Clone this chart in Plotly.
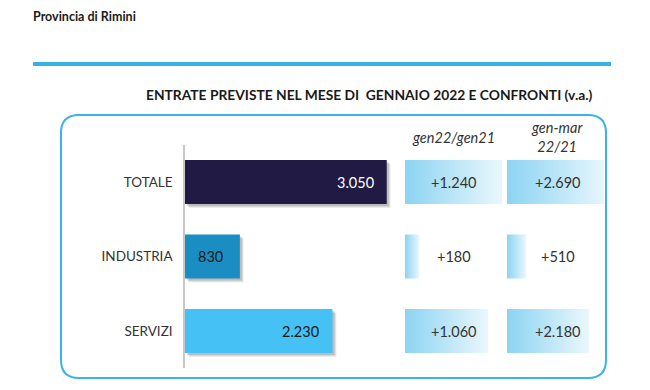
import plotly.graph_objects as go

# ---- data ----
categories = ["TOTALE", "INDUSTRIA", "SERVIZI"]
entrate = [3050, 830, 2230]
entrate_labels = ["3.050", "830", "2.230"]
var_gen = [1240, 180, 1060]
var_gen_labels = ["+1.240", "+180", "+1.060"]
var_genmar = [2690, 510, 2180]
var_genmar_labels = ["+2.690", "+510", "+2.180"]
bar_colors = ["#201A45", "#1A8DC2", "#45C1F6"]
label_colors = ["white", "#1a1a1a", "#1a1a1a"]

W, H = 650, 390
FONT = "Lato, 'Open Sans', sans-serif"
ROW_PX = 74.5
X_PER_PX = 15.12

def px(x):
    return x / W

def py(y):
    return 1 - y / H

fig = go.Figure()

# soft shadows under the main bars
for shift_px, alpha in [(4, 0.07), (3, 0.09), (2, 0.12)]:
    fig.add_trace(go.Bar(
        y=categories, x=entrate, base=shift_px * X_PER_PX, orientation="h",
        marker=dict(color=f"rgba(0,0,0,{alpha})", line=dict(width=0)),
        width=0.59, offset=-0.295 + shift_px / ROW_PX,
        xaxis="x", yaxis="y", hoverinfo="skip", showlegend=False,
    ))

# main bars
fig.add_trace(go.Bar(
    y=categories, x=entrate, orientation="h",
    marker=dict(color=bar_colors, line=dict(width=0)),
    width=0.59, xaxis="x", yaxis="y", hoverinfo="skip", showlegend=False,
))

BAR_HALF = 0.295

def grad_bar(val, cat_idx, xa):
    y0, y1 = cat_idx - BAR_HALF, cat_idx + BAR_HALF
    return go.Scatter(
        x=[0, val, val, 0, 0], y=[y0, y0, y1, y1, y0],
        fill="toself", mode="lines", line=dict(width=0),
        fillgradient=dict(type="horizontal",
                          colorscale=[[0, "#8CD4F2"], [1, "#EAF7FD"]]),
        xaxis=xa, yaxis="y4", hoverinfo="skip", showlegend=False,
    )

for i, v in enumerate(var_gen):
    fig.add_trace(grad_bar(v, i, "x2"))
for i, v in enumerate(var_genmar):
    fig.add_trace(grad_bar(v, i, "x3"))

ydom = [py(368.25), py(144.75)]

fig.update_layout(
    width=W, height=H,
    margin=dict(l=0, r=0, t=0, b=0),
    barmode="overlay",
    paper_bgcolor="white", plot_bgcolor="rgba(0,0,0,0)",
    font=dict(family=FONT, color="#333333"),
    xaxis=dict(domain=[px(185), px(400)], range=[0, 215 * X_PER_PX],
               visible=False, fixedrange=True),
    yaxis=dict(domain=ydom, categoryorder="array", categoryarray=categories,
               autorange="reversed", showline=True, linecolor="#C8C8C8",
               linewidth=1.5, ticks="", showgrid=False, zeroline=False,
               ticklabelstandoff=8,
               tickfont=dict(size=13.5, color="#333333", family=FONT)),
    xaxis2=dict(domain=[px(405), px(502)], range=[0, 97 * 12.78],
                visible=False, anchor="y4"),
    xaxis3=dict(domain=[px(507), px(604)], range=[0, 97 * 26.6],
                visible=False, anchor="y4"),
    yaxis4=dict(domain=ydom, range=[2.5, -0.5], visible=False,
                anchor="x2"),
)

annotations = []
for i, (v, lab) in enumerate(zip(entrate, entrate_labels)):
    if v < 1000:
        annotations.append(dict(x=0, y=categories[i], xref="x", yref="y",
                                text=lab, showarrow=False, xanchor="left",
                                xshift=11, font=dict(size=14.5, color=label_colors[i], family=FONT)))
    else:
        annotations.append(dict(x=v, y=categories[i], xref="x", yref="y",
                                text=lab, showarrow=False, xanchor="right",
                                xshift=-11, font=dict(size=14.5, color=label_colors[i], family=FONT)))
for i, lab in enumerate(var_gen_labels):
    annotations.append(dict(x=0.5, y=i, xref="x2 domain", yref="y4", text=lab,
                            showarrow=False, xanchor="center",
                            font=dict(size=14.5, color="#333333", family=FONT)))
for i, lab in enumerate(var_genmar_labels):
    annotations.append(dict(x=0.5, y=i, xref="x3 domain", yref="y4", text=lab,
                            showarrow=False, xshift=2, xanchor="center",
                            font=dict(size=14.5, color="#333333", family=FONT)))
annotations += [
    dict(x=px(453), y=py(137), xref="paper", yref="paper", text="<i>gen22/gen21</i>",
         showarrow=False, xanchor="center", yanchor="middle",
         font=dict(size=14.5, color="#333333", family=FONT)),
    dict(x=px(557), y=py(136.5), xref="paper", yref="paper", text="<i>gen-mar</i><br><i>22/21</i>",
         showarrow=False, xanchor="center", yanchor="middle",
         font=dict(size=14.5, color="#333333", family=FONT)),
    dict(x=px(31), y=py(17), xref="paper", yref="paper", text="<b>Provincia di Rimini</b>",
         showarrow=False, xanchor="left", yanchor="middle",
         font=dict(size=12.5, color="#1a1a1a", family=FONT)),
    dict(x=px(594), y=py(94), xref="paper", yref="paper",
         text="<b>ENTRATE PREVISTE NEL MESE DI  GENNAIO 2022 E CONFRONTI (v.a.)</b>",
         showarrow=False, xanchor="right", yanchor="middle",
         font=dict(size=13.8, color="#1a1a1a", family=FONT)),
]
fig.update_layout(annotations=annotations)

x0, x1, y0, y1, r = 61, 606, 115, 378, 18
rx, ry = r / W, r / H
X0, X1, Y0, Y1 = px(x0), px(x1), py(y0), py(y1)
path = (f"M {X0+rx} {Y0} L {X1-rx} {Y0} Q {X1} {Y0} {X1} {Y0-ry} "
        f"L {X1} {Y1+ry} Q {X1} {Y1} {X1-rx} {Y1} "
        f"L {X0+rx} {Y1} Q {X0} {Y1} {X0} {Y1+ry} "
        f"L {X0} {Y0-ry} Q {X0} {Y0} {X0+rx} {Y0} Z")
fig.add_shape(type="path", path=path, xref="paper", yref="paper",
              line=dict(color="#3BB3E8", width=2), layer="below")
fig.add_shape(type="line", x0=px(33), x1=px(611), y0=py(64), y1=py(64),
              xref="paper", yref="paper", line=dict(color="#35B1E6", width=4))

fig.write_html("out.html", config={"displayModeBar": False},
               post_script="document.body.style.margin='0';")
